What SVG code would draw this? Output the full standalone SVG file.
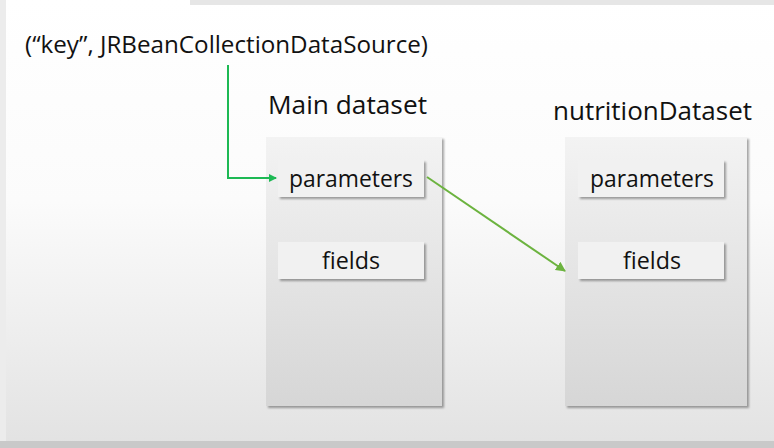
<svg xmlns="http://www.w3.org/2000/svg" width="774" height="448" viewBox="0 0 774 448">
<defs>
<linearGradient id="bg" x1="0" y1="0" x2="0" y2="1">
<stop offset="0" stop-color="#ffffff"/>
<stop offset="0.45" stop-color="#fbfbfb"/>
<stop offset="1" stop-color="#e2e2e2"/>
</linearGradient>
<linearGradient id="panel" x1="0" y1="0" x2="0" y2="1">
<stop offset="0" stop-color="#f3f3f3"/>
<stop offset="1" stop-color="#d6d6d6"/>
</linearGradient>
<filter id="sh" x="-10%" y="-10%" width="130%" height="130%">
<feDropShadow dx="2" dy="2" stdDeviation="1.2" flood-color="#000" flood-opacity="0.35"/>
</filter>
<marker id="ah1" markerWidth="8" markerHeight="8" refX="7" refY="4" orient="auto" markerUnits="userSpaceOnUse">
<path d="M0,0 L8,4 L0,8 Z" fill="#1db954"/>
</marker>
<marker id="ah2" markerWidth="10" markerHeight="10" refX="9" refY="5" orient="auto" markerUnits="userSpaceOnUse">
<path d="M0,0 L10,5 L0,10 Z" fill="#6cb33f"/>
</marker>
</defs>
<style>
.t{font-family:"Open Sans","Liberation Sans",sans-serif;fill:#111;}
.panel{fill:url(#panel);filter:url(#sh);}
.item{fill:#f1f1f1;filter:url(#sh);}
.lbl{font-size:23px;text-anchor:middle;}
</style>
<rect x="0" y="0" width="774" height="448" fill="url(#bg)"/>
<rect x="190" y="0" width="584" height="5" fill="#e6e6e6"/>
<rect x="0" y="0" width="6" height="442" fill="#ececec"/>
<rect x="0" y="441" width="774" height="7" fill="#c9c9c9"/>
<text class="t" x="25" y="53" font-size="23.5" textLength="403" lengthAdjust="spacingAndGlyphs">(“key”, JRBeanCollectionDataSource)</text>
<g id="main-dataset">
<text class="t" x="268" y="114" font-size="25.5" textLength="159" lengthAdjust="spacingAndGlyphs">Main dataset</text>
<rect class="panel" x="266" y="137" width="176" height="269"/>
<g id="main-parameters">
<rect class="item" x="278" y="160" width="146" height="37"/>
<text class="t lbl" x="351" y="187" textLength="124" lengthAdjust="spacingAndGlyphs">parameters</text>
</g>
<g id="main-fields">
<rect class="item" x="278" y="242" width="146" height="37"/>
<text class="t lbl" x="351" y="269" textLength="58" lengthAdjust="spacingAndGlyphs">fields</text>
</g>
</g>
<g id="nutrition-dataset">
<text class="t" x="553" y="120" font-size="25.5" textLength="199" lengthAdjust="spacingAndGlyphs">nutritionDataset</text>
<rect class="panel" x="565" y="137" width="182" height="269"/>
<g id="nutrition-parameters">
<rect class="item" x="578" y="160" width="146" height="37"/>
<text class="t lbl" x="652" y="187" textLength="124" lengthAdjust="spacingAndGlyphs">parameters</text>
</g>
<g id="nutrition-fields">
<rect class="item" x="578" y="242" width="146" height="37"/>
<text class="t lbl" x="652" y="269" textLength="58" lengthAdjust="spacingAndGlyphs">fields</text>
</g>
</g>
<g id="connectors" fill="none">
<path d="M228,65 V178 H276" stroke="#1db954" stroke-width="2" marker-end="url(#ah1)"/>
<path d="M427,177 L565,271" stroke="#6cb33f" stroke-width="2" marker-end="url(#ah2)"/>
</g>
</svg>
